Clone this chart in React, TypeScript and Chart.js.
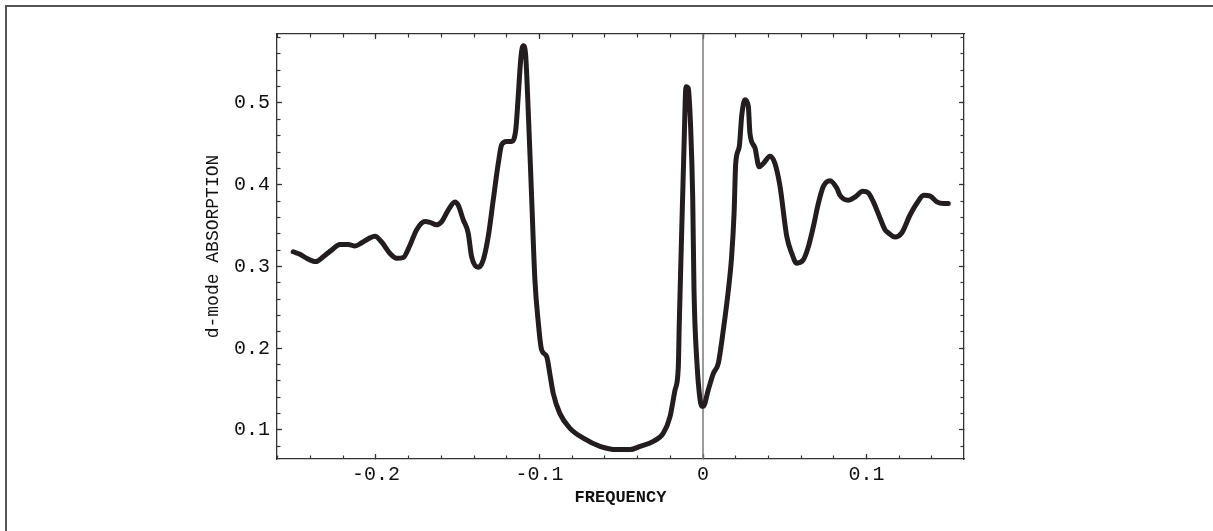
import React, { useEffect, useRef } from "react";
import { Chart, registerables } from "chart.js";

Chart.register(...registerables);

// ---- data ----
const frequency: number[] = [
  -0.2506, -0.2465, -0.2424, -0.2367, -0.2322, -0.2271, -0.222, -0.2169, -0.2128, -0.2087,
  -0.2037, -0.2006, -0.1965, -0.1914, -0.1873, -0.1833, -0.1792, -0.1751, -0.17, -0.167,
  -0.1629, -0.1598, -0.1558, -0.1517, -0.1497, -0.1466, -0.1436, -0.1415, -0.1374, -0.1344,
  -0.1313, -0.1283, -0.1252, -0.1231, -0.1201, -0.117, -0.1144, -0.113, -0.1113, -0.1099,
  -0.1084, -0.1068, -0.1048, -0.1028, -0.1007, -0.0987, -0.0956, -0.0936, -0.0916, -0.0875,
  -0.0813, -0.0732, -0.063, -0.0528, -0.0446, -0.0385, -0.0304, -0.0243, -0.0202, -0.0171,
  -0.0151, -0.0145, -0.013, -0.0116, -0.0104, -0.009, -0.0075, -0.0063, -0.0055, -0.0037,
  -0.0018, -0.0008, 0.0002, 0.0032, 0.0063, 0.0094, 0.0124, 0.0155, 0.0175, 0.019,
  0.02, 0.0222, 0.0237, 0.0257, 0.0277, 0.0287, 0.0318, 0.0343, 0.0369, 0.041,
  0.044, 0.0471, 0.0512, 0.0543, 0.0573, 0.0613, 0.0644, 0.0675, 0.0705, 0.0736,
  0.0777, 0.0818, 0.0838, 0.0889, 0.093, 0.0977, 0.1011, 0.1042, 0.1083, 0.1113,
  0.1134, 0.1174, 0.1215, 0.1266, 0.131, 0.135, 0.139, 0.143, 0.147, 0.15,
];
const absorption: number[] = [
  0.318, 0.315, 0.31, 0.306, 0.312, 0.32, 0.327, 0.327, 0.325, 0.329,
  0.335, 0.337, 0.33, 0.316, 0.31, 0.311, 0.326, 0.345, 0.355, 0.354,
  0.351, 0.355, 0.369, 0.379, 0.375, 0.357, 0.341, 0.312, 0.299, 0.308,
  0.337, 0.381, 0.426, 0.449, 0.453, 0.453, 0.469, 0.508, 0.557, 0.57,
  0.557, 0.487, 0.385, 0.284, 0.231, 0.198, 0.19, 0.168, 0.145, 0.12,
  0.102, 0.09, 0.08, 0.076, 0.076, 0.08, 0.086, 0.096, 0.116, 0.149,
  0.177, 0.231, 0.345, 0.447, 0.52, 0.518, 0.467, 0.385, 0.271, 0.182,
  0.137, 0.129, 0.129, 0.149, 0.169, 0.182, 0.222, 0.271, 0.312, 0.365,
  0.426, 0.447, 0.485, 0.504, 0.496, 0.463, 0.445, 0.422, 0.426, 0.435,
  0.426, 0.398, 0.337, 0.316, 0.304, 0.308, 0.324, 0.349, 0.377, 0.398,
  0.405, 0.396, 0.387, 0.381, 0.385, 0.392, 0.39, 0.379, 0.359, 0.345,
  0.341, 0.336, 0.341, 0.363, 0.378, 0.387, 0.386, 0.379, 0.377, 0.377,
];

const xRange: number[] = [-0.2605, 0.1596];
const yRange: number[] = [0.0645, 0.5844];
const majorStep = 0.1;
const minorStep = 0.02;
const xTitle = "FREQUENCY";
const yTitle = "d-mode ABSORPTION";

const MONO = "'Liberation Mono', 'DejaVu Sans Mono', monospace";
const AXIS_COLOR = "#333333";

function fmt(v: number): string {
  const r = Math.round(v * 10) / 10;
  if (Math.abs(r) < 1e-9) return "0";
  return r.toFixed(1);
}

export default function App() {
  const canvasRef = useRef<HTMLCanvasElement | null>(null);

  useEffect(() => {
    const canvas = canvasRef.current;
    if (!canvas) return;

    const sized = (w?: number, h?: number) => (s: any) => {
      if (w !== undefined) s.width = w;
      if (h !== undefined) s.height = h;
    };

    const makeScale = (
      axis: "x" | "y",
      position: string,
      weight: number,
      step: number,
      tickLength: number,
      showBorder: boolean,
      size: number,
      extra: any = {}
    ) => ({
      type: "linear",
      axis,
      position,
      weight,
      min: axis === "x" ? xRange[0] : yRange[0],
      max: axis === "x" ? xRange[1] : yRange[1],
      grid: {
        drawOnChartArea: false,
        drawTicks: true,
        tickLength,
        tickColor: AXIS_COLOR,
        tickWidth: 1.2,
      },
      border: { display: showBorder, color: AXIS_COLOR, width: 1.3 },
      ticks: {
        stepSize: step,
        includeBounds: false,
        autoSkip: false,
        maxRotation: 0,
        display: false,
      },
      afterFit: axis === "x" ? sized(undefined, size) : sized(size, undefined),
      ...extra,
    });

    const chart = new Chart(canvas, {
      type: "line",
      data: {
        datasets: [
          {
            label: yTitle,
            data: frequency.map((f, i) => ({ x: f, y: absorption[i] })),
            borderColor: "#221e1f",
            borderWidth: 5,
            pointRadius: 0,
            cubicInterpolationMode: "monotone",
            borderJoinStyle: "round",
            borderCapStyle: "round",
            fill: false,
            order: 1,
            xAxisID: "x",
            yAxisID: "y",
          },
          {
            label: "axis",
            data: [
              { x: 0, y: yRange[0] },
              { x: 0, y: yRange[1] },
            ],
            borderColor: "#7a7a7a",
            borderWidth: 1.5,
            pointRadius: 0,
            fill: false,
            order: 2,
            xAxisID: "x",
            yAxisID: "y",
          },
        ],
      },
      options: {
        animation: false,
        responsive: false,
        devicePixelRatio: 1,
        layout: { padding: 0 },
        plugins: {
          legend: { display: false },
          tooltip: { enabled: false },
          title: { display: false },
        },
        scales: {
          x: makeScale("x", "bottom", 1, majorStep, -5, true, 72, {
            ticks: {
              stepSize: majorStep,
              includeBounds: false,
              autoSkip: false,
              maxRotation: 0,
              display: true,
              padding: 9,
              color: "#111",
              font: { family: MONO, size: 20 },
              callback: (v: any) => fmt(Number(v)),
            },
            title: {
              display: true,
              text: xTitle,
              color: "#111",
              font: { family: MONO, size: 17, weight: "bold" },
              padding: { top: 0, bottom: 23 },
            },
          }),
          xMinor: makeScale("x", "bottom", 0, minorStep, -3.5, false, 0),
          xTop: makeScale("x", "top", 1, majorStep, -5, true, 34),
          xTopMinor: makeScale("x", "top", 0, minorStep, -3.5, false, 0),
          y: makeScale("y", "left", 1, majorStep, -5, true, 277, {
            ticks: {
              stepSize: majorStep,
              includeBounds: false,
              autoSkip: false,
              display: true,
              padding: 12,
              color: "#111",
              font: { family: MONO, size: 20 },
              callback: (v: any) => fmt(Number(v)),
            },
            title: {
              display: true,
              text: yTitle,
              color: "#111",
              font: { family: MONO, size: 18 },
              padding: { top: 202, bottom: 0 },
            },
          }),
          yMinor: makeScale("y", "left", 0, minorStep, -3.5, false, 0),
          yRight: makeScale("y", "right", 1, majorStep, -5, true, 249),
          yRightMinor: makeScale("y", "right", 0, minorStep, -3.5, false, 0),
        },
      } as any,
    });

    return () => chart.destroy();
  }, []);

  return (
    <div
      style={{
        position: "fixed",
        left: 0,
        top: 0,
        width: 1213,
        height: 531,
        overflow: "hidden",
        background: "#ffffff",
      }}
    >
      <canvas
        ref={canvasRef}
        width={1213}
        height={531}
        style={{ position: "absolute", left: 0, top: 0, width: 1213, height: 531 }}
      />
      <div
        style={{
          position: "absolute",
          left: 5,
          top: 5,
          width: 1400,
          height: 700,
          border: "2px solid #555555",
          boxSizing: "border-box",
          pointerEvents: "none",
        }}
      />
    </div>
  );
}
